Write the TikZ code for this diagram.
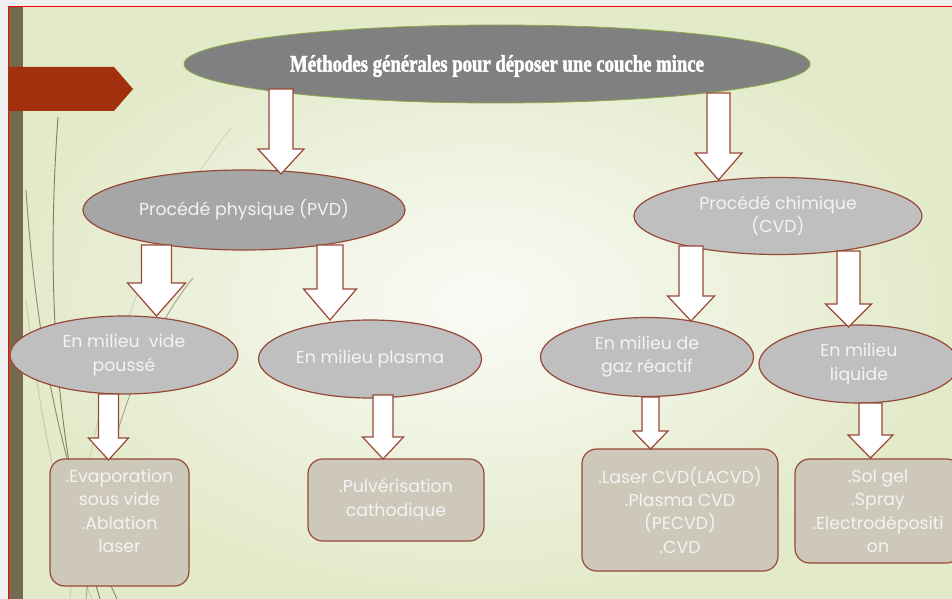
\documentclass[tikz,border=0pt]{standalone}
\usepackage{fontspec}
\setmainfont{Poppins}
\newfontfamily\titlefont{Liberation Serif}[FakeStretch=0.78,FakeBold=1.8]
\usetikzlibrary{shapes.geometric}

\definecolor{edgebrown}{RGB}{152,72,56}
\definecolor{barbrown}{RGB}{117,106,79}
\definecolor{bannerred}{RGB}{162,48,14}
\definecolor{boxfill}{RGB}{205,200,185}
\definecolor{txtwhite}{RGB}{243,243,243}
\definecolor{bglight}{RGB}{250,251,246}
\definecolor{bggreen}{RGB}{226,234,201}
\definecolor{topgreen}{RGB}{140,172,72}

\tikzset{every picture/.style={line width=0.75pt}}
\tikzset{
  oval/.style={ellipse, draw=edgebrown, line width=0.9pt, text=txtwhite, align=center, inner sep=0pt, font=\fontsize{13}{17.5}\selectfont},
  leaf/.style={rectangle, rounded corners=11pt, draw=edgebrown, line width=0.9pt, fill=boxfill, text=txtwhite, align=center, inner sep=0pt, font=\fontsize{13}{17.5}\selectfont},
  leaftext/.style={text=txtwhite, align=center, inner sep=0pt, font=\fontsize{13}{17.5}\selectfont},
  bigarrow/.style={draw=edgebrown, fill=white, line width=0.9pt, line join=miter},
  blade/.style={draw=barbrown, line width=0.7pt}
}
% hollow down arrow: x, y top, y head, y tip, half shaft, half head
\newcommand{\bigdown}[6]{%
  \draw[bigarrow] (#1-#5,#2) -- (#1+#5,#2) -- (#1+#5,#3) -- (#1+#6,#3) -- (#1,#4) -- (#1-#6,#3) -- (#1-#5,#3) -- cycle ;}

\begin{document}
\begin{tikzpicture}[x=0.75pt,y=0.75pt,yscale=-1,xscale=1]
\useasboundingbox (0,0) rectangle (952,599);

%Background
\fill[black!6] (0,0) rectangle (952,599);
\shade[inner color=bglight, outer color=bggreen] (8,7) rectangle (952,599);
\fill[barbrown] (9,7) rectangle (23,599);
\draw[red] (8,599) -- (8,7) -- (952,7);

%Curve Lines (blades)
\draw[blade, opacity=0.85] (58,117) .. controls (47,270) and (52,440) .. (100,599) ;
\draw[blade, opacity=0.75] (26,190) .. controls (36,340) and (62,480) .. (117,599) ;
\draw[blade, opacity=0.2] (231,128) .. controls (150,230) and (90,380) .. (70,599) ;
\draw[blade, opacity=0.55] (193,278) .. controls (150,330) and (100,440) .. (86,599) ;
\draw[blade, opacity=0.25] (26,300) .. controls (40,420) and (60,520) .. (92,599) ;

%Shape: Banner
\fill[bannerred] (8,67) -- (114,67) -- (133,89) -- (114,111) -- (8,111) -- cycle ;

%Shape: Ellipses
\node[oval, draw=topgreen, line width=0.6pt, fill=black!50, minimum width=469.5pt, minimum height=58.5pt] (top) at (497,64) {};
\node[text=white, font=\titlefont\bfseries\fontsize{18}{21}\selectfont] (toptxt) at (497,66) {Méthodes générales pour déposer une couche mince};
\node[oval, fill=black!35, minimum width=241.5pt, minimum height=60pt] (pvd) at (244,210) {Procédé physique (PVD)};
\node[oval, fill=black!25, minimum width=216pt, minimum height=57.75pt] (cvd) at (778,216) {Procédé chimique\\(CVD)};
\node[oval, fill=black!25, minimum width=171pt, minimum height=58.5pt] (vide) at (124,355) {En milieu\ \ vide\\poussé};
\node[oval, fill=black!25, minimum width=167.25pt, minimum height=58.5pt] (plasma) at (370,359) {En milieu plasma};
\node[oval, fill=black!25, minimum width=159.75pt, minimum height=59.25pt] (gaz) at (647,357) {En milieu de\\gaz réactif};
\node[oval, fill=black!25, minimum width=150pt, minimum height=58.5pt] (liquide) at (859,364) {En milieu\\liquide};

%Shape: Rounded boxes
\node[leaf, minimum width=104.25pt, minimum height=95.25pt] (evap) at (119.5,522.5) {};
\node[leaftext] (evaptxt) at (119.5,511) {.Evaporation\\sous vide\\.Ablation\\laser};
\node[leaf, minimum width=132pt, minimum height=61.5pt] (pulv) at (396,500) {.Pulvérisation\\cathodique};
\node[leaf, minimum width=147pt, minimum height=91.5pt] (lacvd) at (680,510) {.Laser CVD(LACVD)\\.Plasma CVD\\(PECVD)\\.CVD};
\node[leaf, minimum width=124.5pt, minimum height=78pt] (solgel) at (878,511) {.Sol gel\\.Spray\\.Electrodépositi\\on};

%Down Arrows
\bigdown{281}{89}{149}{174}{12}{23}
\bigdown{718.5}{93}{153}{180}{11.5}{23.5}
\bigdown{156.5}{245}{283}{316}{15}{29}
\bigdown{330}{245}{289}{320}{13}{26.5}
\bigdown{691}{246}{296}{321}{12}{23.5}
\bigdown{848.5}{251}{304}{327}{11.5}{23}
\bigdown{108.5}{394}{438}{460}{10}{20}
\bigdown{383}{395}{437}{459}{10}{20.5}
\bigdown{650.5}{397}{431}{449}{8.5}{17.5}
\bigdown{870.5}{403}{435}{458}{11.5}{22.5}

\end{tikzpicture}
\end{document}
